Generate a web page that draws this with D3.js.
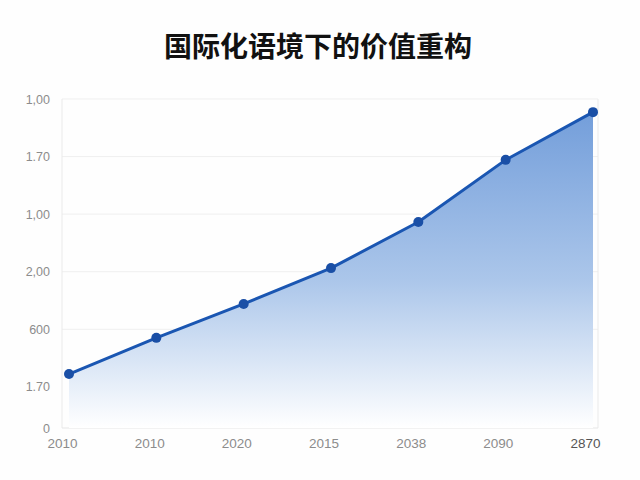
<!DOCTYPE html>
<html><head><meta charset="utf-8">
<script src="https://cdn.jsdelivr.net/npm/d3@7/dist/d3.min.js"></script>
<style>html,body{margin:0;padding:0;background:#fff;}</style>
</head><body>
<svg id="chart" width="640" height="480"></svg>
<script>
const title = "国际化语境下的价值重构";
const categories = ["2010a","2010b","2020","2015","2038","2090","2870"];
const xTickLabels = ["2010","2010","2020","2015","2038","2090","2870"];
const values = [16.4, 27.4, 37.7, 48.6, 62.6, 81.5, 96.0];
const yTickValues = [0, 12.5, 30, 47.5, 65, 82.5, 100];
const yTickLabels = ["0","1.70","600","2,00","1,00","1.70","1,00"];

(function(){
const svg = d3.select("#chart");
const pLeft = 62, pRight = 598, pTop = 99, pBottom = 428;

svg.append("rect").attr("width",640).attr("height",480).attr("fill","#fefefe");

svg.append("text").attr("x",318).attr("y",57).attr("text-anchor","middle")
  .attr("font-family","'Noto Sans CJK SC'").attr("font-weight","bold")
  .attr("font-size",28).attr("fill","#111").text(title);

const x = d3.scalePoint().domain(categories).range([69, 593]);
const xl = d3.scalePoint().domain(categories).range([62, 585]);
const y = d3.scaleLinear().domain([0,100]).range([pBottom, pTop]);

svg.append("g").selectAll("line").data(yTickValues.filter(v=>v>0 && v!==12.5)).join("line")
  .attr("x1",pLeft).attr("x2",pRight).attr("y1",d=>y(d)).attr("y2",d=>y(d))
  .attr("stroke","#efefef").attr("stroke-width",1);
svg.append("line").attr("x1",pLeft).attr("x2",pLeft).attr("y1",pTop).attr("y2",pBottom).attr("stroke","#eaeaea");
svg.append("line").attr("x1",pRight).attr("x2",pRight).attr("y1",pTop).attr("y2",pBottom).attr("stroke","#eaeaea");
svg.append("line").attr("x1",pLeft).attr("x2",pRight).attr("y1",pBottom).attr("y2",pBottom).attr("stroke","#e6e6e6");

const defs = svg.append("defs");
const grad = defs.append("linearGradient").attr("id","g1").attr("gradientUnits","userSpaceOnUse")
  .attr("x1",0).attr("x2",0).attr("y1",pTop).attr("y2",pBottom);
grad.append("stop").attr("offset","0%").attr("stop-color","#6f9bd9");
grad.append("stop").attr("offset","55%").attr("stop-color","#abc6ea");
grad.append("stop").attr("offset","100%").attr("stop-color","#ffffff");

const area = d3.area().x((d,i)=>x(categories[i])).y0(pBottom).y1(d=>y(d));
svg.append("path").datum(values).attr("d",area).attr("fill","url(#g1)");

const line = d3.line().x((d,i)=>x(categories[i])).y(d=>y(d));
svg.append("path").datum(values).attr("d",line).attr("fill","none")
  .attr("stroke","#1a56b2").attr("stroke-width",3).attr("stroke-linejoin","round");

svg.append("g").selectAll("circle").data(values).join("circle")
  .attr("cx",(d,i)=>x(categories[i])).attr("cy",d=>y(d)).attr("r",5).attr("fill","#1a4fa6");

const yAxis = d3.axisLeft(y).tickValues(yTickValues).tickSize(0).tickPadding(0)
  .tickFormat((d,i)=>yTickLabels[i]);
const ga = svg.append("g").attr("transform","translate(50,0)").call(yAxis);
ga.select(".domain").remove();
ga.selectAll("text").attr("font-family","'Liberation Sans', Arial").attr("font-size",12.5).attr("fill","#8c8c8c");

const xAxis = d3.axisBottom(xl).tickSize(0).tickPadding(0).tickFormat((d,i)=>xTickLabels[i]);
const gx = svg.append("g").attr("transform","translate(0,438)").call(xAxis);
gx.select(".domain").remove();
gx.selectAll("text").attr("font-family","'Liberation Sans', Arial").attr("font-size",13.5).attr("fill","#8c8c8c");
gx.selectAll("text").filter((d,i)=>i===6).attr("fill","#555");
})();
</script>
</body></html>
